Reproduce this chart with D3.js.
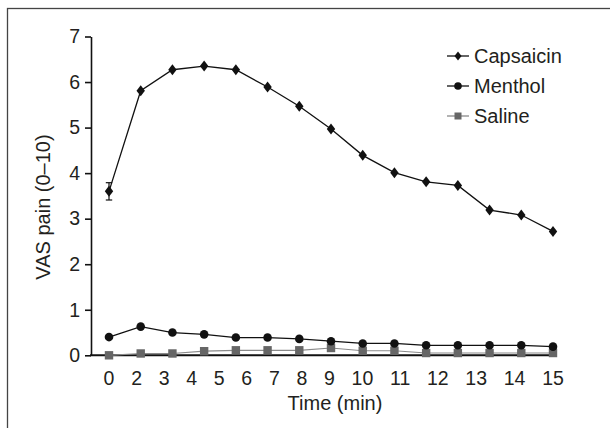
<!DOCTYPE html>
<html><head><meta charset="utf-8">
<script src="https://cdn.jsdelivr.net/npm/d3@7"></script>
<style>
body{margin:0;background:#fff}
svg{display:block}
text{font-family:"Liberation Sans",Arial,Helvetica,sans-serif;fill:#231f20}
</style>
</head><body><svg id="c" width="610" height="428"></svg>
<script>
// ---- data ----
const categories = ["0","2","3","4","5","6","7","8","9","10","11","12","13","14","15"];
const capsaicin = [3.60,5.81,6.27,6.35,6.27,5.89,5.47,4.97,4.39,4.01,3.81,3.73,3.19,3.08,2.72];
const capsaicinErr = [0.19,0,0,0,0,0,0,0,0,0,0,0,0,0,0];
const menthol = [0.40,0.63,0.50,0.46,0.39,0.39,0.36,0.31,0.26,0.26,0.22,0.22,0.22,0.22,0.19];
const saline = [0.00,0.04,0.04,0.09,0.11,0.11,0.11,0.16,0.10,0.10,0.05,0.05,0.05,0.05,0.05];
const yTicks = [0,1,2,3,4,5,6,7];
const seriesNames = ["Capsaicin","Menthol","Saline"];
const xTitle = "Time (min)";
const yTitle = "VAS pain (0\u201310)";

// ---- layout ----
const svg = d3.select("#c");
const axisX = 91, zeroY = 355.3, topY = 36.5;
const x = d3.scalePoint().domain(d3.range(categories.length)).range([109, 553]);
const y = d3.scaleLinear().domain([0, 7]).range([zeroY, topY]);

// frame
svg.append("rect").attr("x",7.5).attr("y",8.5).attr("width",700).attr("height",500)
  .attr("fill","none").attr("stroke","#444").attr("stroke-width",1.3);

// y axis
const gy = svg.append("g").attr("transform",`translate(${axisX},0)`)
  .call(d3.axisLeft(y).tickValues(yTicks).tickSize(6).tickSizeOuter(0).tickPadding(5).tickFormat(d3.format("d")));
gy.select(".domain").attr("stroke","#111").attr("stroke-width",1.6);
gy.selectAll(".tick line").attr("stroke","#111").attr("stroke-width",1.6);
gy.selectAll(".tick text").attr("font-size",19.5).attr("fill","#231f20")
  .attr("font-family","Liberation Sans, Arial, sans-serif");

// x axis line
svg.append("line").attr("x1",axisX-1).attr("x2",x(categories.length-1)+4)
  .attr("y1",zeroY).attr("y2",zeroY).attr("stroke","#111").attr("stroke-width",2);

// x tick labels: laid out as one evenly gapped row spanning first to last point
const gx = svg.append("g");
const labs = gx.selectAll("text").data(categories).join("text")
  .attr("font-size",19.5).attr("y",385).attr("text-anchor","middle").text(d=>d);
const widths = [];
labs.each(function(){ widths.push(this.getComputedTextLength()); });
const span = x(categories.length-1) - x(0);
const inner = d3.sum(widths) - widths[0]/2 - widths[widths.length-1]/2;
const gap = (span - inner) / (categories.length-1);
let cx = x(0);
const centers = [cx];
for (let i=1;i<widths.length;i++){ cx += widths[i-1]/2 + gap + widths[i]/2; centers.push(cx); }
labs.attr("x",(d,i)=>centers[i]);

// titles
svg.append("text").attr("x",(x(0)+x(categories.length-1))/2+4).attr("y",410)
  .attr("text-anchor","middle").attr("font-size",20).text(xTitle);
svg.append("text").attr("transform",`translate(50,207) rotate(-90)`)
  .attr("text-anchor","middle").attr("font-size",20).text(yTitle);

// marker shapes
const diamond = "M0,-5.5L4.2,0L0,5.5L-4.2,0Z";
const line = d3.line().x((d,i)=>x(i)).y(d=>y(d));

// saline
svg.append("path").datum(saline).attr("d",line).attr("fill","none").attr("stroke","#8a8a8a").attr("stroke-width",1.2);
svg.append("g").selectAll("rect").data(saline).join("rect")
  .attr("x",(d,i)=>x(i)-4.2).attr("y",d=>y(d)-4.2).attr("width",8.4).attr("height",8.4).attr("fill","#666");

// menthol
svg.append("path").datum(menthol).attr("d",line).attr("fill","none").attr("stroke","#111").attr("stroke-width",1.3);
svg.append("g").selectAll("circle").data(menthol).join("circle")
  .attr("cx",(d,i)=>x(i)).attr("cy",d=>y(d)).attr("r",4.3).attr("fill","#111");

// capsaicin
svg.append("path").datum(capsaicin).attr("d",line).attr("fill","none").attr("stroke","#111").attr("stroke-width",1.3);
const eb = svg.append("g").selectAll("g").data(capsaicin.map((v,i)=>({v,i,e:capsaicinErr[i]})).filter(d=>d.e>0)).join("g")
  .attr("stroke","#111").attr("stroke-width",1.2);
eb.append("line").attr("x1",d=>x(d.i)).attr("x2",d=>x(d.i)).attr("y1",d=>y(d.v-d.e)).attr("y2",d=>y(d.v+d.e));
eb.append("line").attr("x1",d=>x(d.i)-3.2).attr("x2",d=>x(d.i)+3.2).attr("y1",d=>y(d.v-d.e)).attr("y2",d=>y(d.v-d.e));
eb.append("line").attr("x1",d=>x(d.i)-3.2).attr("x2",d=>x(d.i)+3.2).attr("y1",d=>y(d.v+d.e)).attr("y2",d=>y(d.v+d.e));
svg.append("g").selectAll("path").data(capsaicin).join("path")
  .attr("d",diamond).attr("transform",(d,i)=>`translate(${x(i)},${y(d)})`).attr("fill","#111");

// legend
const legY = [56, 86, 116];
const lg = svg.append("g").attr("transform","translate(447,0)");
seriesNames.forEach((name,i)=>{
  const g = lg.append("g").attr("transform",`translate(0,${legY[i]})`);
  const col = i===2 ? "#8a8a8a" : "#111";
  g.append("line").attr("x1",0).attr("x2",22).attr("stroke",col).attr("stroke-width",1.3);
  if (i===0) g.append("path").attr("d","M0,-4.5L3.5,0L0,4.5L-3.5,0Z").attr("transform","translate(11,0)").attr("fill","#111");
  if (i===1) g.append("circle").attr("cx",11).attr("r",3.8).attr("fill","#111");
  if (i===2) g.append("rect").attr("x",7.5).attr("y",-3.5).attr("width",7).attr("height",7).attr("fill","#666");
  g.append("text").attr("x",27).attr("y",7).attr("font-size",20).text(name);
});
</script>
</body></html>
